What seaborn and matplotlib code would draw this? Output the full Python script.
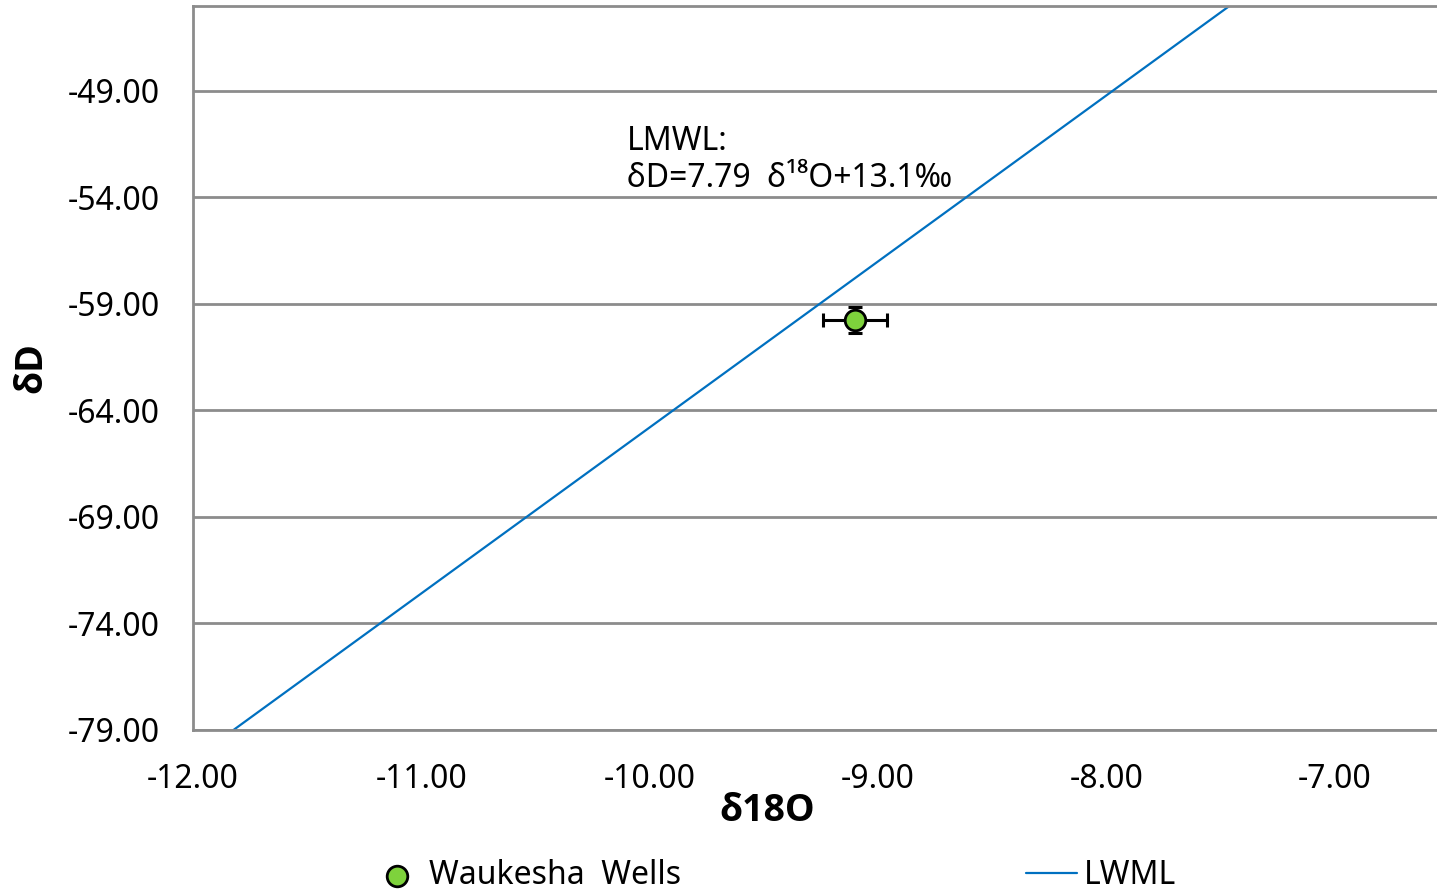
import numpy as np
import pandas as pd
import matplotlib
matplotlib.use("Agg")
import matplotlib.pyplot as plt
import seaborn as sns

# Sample: Waukesha wells (mean with analytical uncertainty)
well_d18o = [-9.1]
well_dD = [-59.75]
well_d18o_err = [0.14]
well_dD_err = [0.6]

# Local meteoric water line: dD = slope * d18O + intercept
lmwl_slope = 7.79
lmwl_intercept = 13.1
lmwl_x = [-12.0, -6.5]

y_ticks = [-79, -74, -69, -64, -59, -54, -49]
x_ticks = [-12, -11, -10, -9, -8, -7]

sns.set_theme(style="white")
plt.rcParams["font.family"] = ["Noto Sans", "DejaVu Sans"]

fig = plt.figure(figsize=(14.37, 8.92), dpi=100)
ax = fig.add_axes([193 / 1437, (892 - 730) / 892, 1 - 193 / 1437, (730 - 6) / 892])

grid_col = "#8c8c8c"
for yv in y_ticks:
    ax.axhline(yv, color=grid_col, lw=2, zorder=0)

line_df = pd.DataFrame({"x": lmwl_x,
                        "y": [lmwl_slope * v + lmwl_intercept for v in lmwl_x]})
sns.lineplot(data=line_df, x="x", y="y", ax=ax, color="#0070C0", lw=1.6,
             label="LWML", zorder=2)

ax.errorbar(well_d18o, well_dD, xerr=well_d18o_err, yerr=well_dD_err,
            fmt="none", ecolor="black", elinewidth=2.2, capsize=5, capthick=2.2,
            zorder=3)
pts = pd.DataFrame({"x": well_d18o, "y": well_dD})
sns.scatterplot(data=pts, x="x", y="y", ax=ax, s=220, color="#7ED23C",
                edgecolor="black", linewidth=2, label="Waukesha  Wells",
                zorder=4)

ax.set_xlim(-12, -6.553)
ax.set_ylim(-79, -45.03)
ax.set_xticks(x_ticks)
ax.set_yticks(y_ticks)
ax.set_xticklabels([f"{v:.2f}" for v in x_ticks])
ax.set_yticklabels([f"{v:.2f}" for v in y_ticks])
ax.tick_params(axis="both", length=0, labelsize=23, colors="black")
ax.tick_params(axis="x", pad=24)
ax.tick_params(axis="y", pad=24)

for side in ["left", "top", "bottom"]:
    ax.spines[side].set_color(grid_col)
    ax.spines[side].set_linewidth(2)
ax.spines["right"].set_visible(False)

label_font = dict(fontsize=27, fontweight="bold", color="black",
                  family=["Open Sans", "DejaVu Sans"])
ax.set_xlabel("δ18O", **label_font)
ax.xaxis.set_label_coords((767 - 193) / (1437 - 193), -0.086)
ax.set_ylabel("δD", **label_font)
ax.yaxis.set_label_coords((50 - 193) / (1437 - 193), 0.5)

ax.text(-10.1, -53.9, "LMWL:\nδD=7.79  δ¹⁸O+13.1‰", fontsize=23,
        ha="left", va="bottom", linespacing=1.15, color="black")

handles, labels = ax.get_legend_handles_labels()
order = [labels.index("Waukesha  Wells"), labels.index("LWML")]
ax.get_legend().remove()
fig.legend([handles[i] for i in order], [labels[i] for i in order],
           loc="center", bbox_to_anchor=(0.5385, 0.018), ncol=2, frameon=False,
           fontsize=23, columnspacing=10.8, handlelength=1.6,
           handletextpad=0.2, labelcolor="black")

fig.savefig("out.png", dpi=100)
